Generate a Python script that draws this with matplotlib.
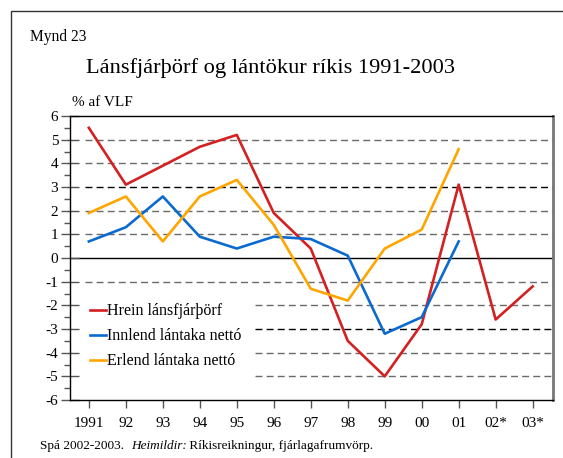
import matplotlib.pyplot as plt
from matplotlib.patches import Rectangle

plt.rcParams['font.family'] = ['Liberation Serif', 'DejaVu Serif']
plt.rcParams['axes.unicode_minus'] = False

years = ['1991', '92', '93', '94', '95', '96', '97', '98', '99', '00', '01', '02*', '03*']
hrein = [5.5, 3.1, 3.9, 4.7, 5.2, 1.9, 0.4, -3.5, -5.0, -2.8, 3.1, -2.6, -1.2]
innlend = [0.7, 1.3, 2.6, 0.9, 0.4, 0.9, 0.8, 0.1, -3.2, -2.5, 0.7]
erlend = [1.9, 2.6, 0.7, 2.6, 3.3, 1.4, -1.3, -1.8, 0.4, 1.2, 4.6]
yticks = list(range(-6, 7))

fig = plt.figure(figsize=(5.63, 4.58), dpi=100)
# outer frame (only left and top edges fall inside the picture)
fig.patches.append(Rectangle((11 / 563, -0.1), 1.2, 1.1 - 11 / 458, transform=fig.transFigure,
                             fill=False, edgecolor='#333333', linewidth=1.0))

ax = fig.add_axes([70 / 563, 58 / 458, 483 / 563, 284 / 458])
x = list(range(len(years)))

# grid lines
for v in yticks:
    if v in (0, 6, -6):
        continue
    col = 'black' if abs(v) == 3 else '#6a6a6a'
    x0 = 4.5 if v <= -2 else -0.1
    ax.hlines(v, x0, 12.55, colors=col, linestyles=(0, (5, 3)), linewidth=1.0, zorder=1)
ax.axhline(0, color='black', linewidth=1.0, zorder=1)

ax.plot(x, hrein, color='#d42020', linewidth=1.9, label='Hrein lánsfjárþörf', zorder=3)
ax.plot(x[:len(innlend)], innlend, color='#0a6ad0', linewidth=1.9, label='Innlend lántaka nettó', zorder=3)
ax.plot(x[:len(erlend)], erlend, color='#ffa500', linewidth=1.9, label='Erlend lántaka nettó', zorder=3)

ax.set_xlim(-0.51, 12.55)
ax.set_ylim(-6, 6)
ax.set_yticks(yticks)
ax.set_yticks([v + 0.5 for v in yticks[:-1]], minor=True)
ax.set_xticks(x)
ax.set_xticklabels(years)
ax.tick_params(axis='y', which='major', direction='inout', length=13, width=1, color='#555555',
               labelsize=11, pad=2)
ax.tick_params(axis='y', which='minor', direction='out', length=4, width=1, color='#555555')
ax.tick_params(axis='x', direction='out', length=6, width=1, color='#555555', labelsize=11, pad=6)
for s in ['left', 'top', 'bottom']:
    ax.spines[s].set_color('black')
    ax.spines[s].set_linewidth(1.0)
ax.spines['right'].set_color('#777777')
ax.spines['right'].set_linewidth(2.0)

ax.legend(loc='center left', bbox_to_anchor=(0.041, 0.224), frameon=False, fontsize=11.5,
          handlelength=1.0, handletextpad=0.1, borderpad=0, borderaxespad=0, labelspacing=0.56)

fig.text(30 / 563, 1 - 37 / 458, 'Mynd 23', fontsize=11.2, va='center', ha='left')
fig.text(270 / 563, 1 - 68 / 458, 'Lánsfjárþörf og lántökur ríkis 1991-2003', fontsize=16.1,
         va='center', ha='center')
fig.text(72 / 563, 1 - 103 / 458, '% af VLF', fontsize=11, va='center', ha='left')

t1 = fig.text(40 / 563, 1 - 449 / 458, 'Spá 2002-2003.  ', fontsize=9.5, va='baseline', ha='left')
t2 = fig.text(0, 0, 'Heimildir:', fontsize=9.5, style='italic', va='baseline', ha='left')
t3 = fig.text(0, 0, ' Ríkisreikningur, fjárlagafrumvörp.', fontsize=9.5, va='baseline', ha='left')
fig.canvas.draw()
r = fig.canvas.get_renderer()
inv = fig.transFigure.inverted()
x1 = inv.transform((t1.get_window_extent(r).x1, 0))[0]
t2.set_position((x1, 1 - 449 / 458))
x2 = inv.transform((t2.get_window_extent(r).x1, 0))[0]
t3.set_position((x2, 1 - 449 / 458))

fig.savefig('out.png', dpi=100)
